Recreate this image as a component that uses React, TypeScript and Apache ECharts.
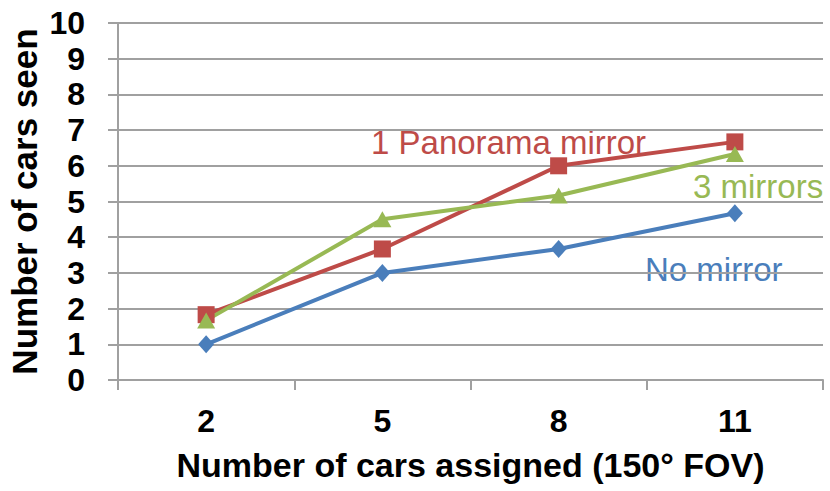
import React, { useEffect, useRef } from "react";
import * as echarts from "echarts";

const categories = ["2", "5", "8", "11"];
const noMirror = [1, 3, 3.67, 4.67];
const panorama = [1.83, 3.67, 6, 6.67];
const threeMirrors = [1.67, 4.5, 5.17, 6.33];

const BLUE = "#4A7EBB";
const RED = "#BE4B48";
const GREEN = "#98B954";
const FONT = "'Liberation Sans', Arial, sans-serif";

export default function App() {
  const ref = useRef<HTMLDivElement>(null);
  useEffect(() => {
    if (!ref.current) return;
    const chart = echarts.init(ref.current, null, { renderer: "svg" });
    chart.setOption({
      animation: false,
      backgroundColor: "#ffffff",
      grid: { left: 118, right: 7, top: 23, bottom: 111, containLabel: false, outerBoundsMode: "none" },
      xAxis: {
        type: "category",
        data: categories,
        boundaryGap: true,
        name: "Number of cars assigned (150° FOV)",
        nameLocation: "middle",
        nameGap: 68,
        nameTextStyle: { fontFamily: FONT, fontSize: 34, fontWeight: "bold", color: "#000" },
        axisLine: { show: true, lineStyle: { color: "#A0A0A0", width: 2 } },
        axisTick: { show: true, length: 10, interval: 0, alignWithLabel: false, lineStyle: { color: "#A0A0A0", width: 2 } },
        axisLabel: { fontFamily: FONT, fontSize: 32, fontWeight: "bold", color: "#000", margin: 25 },
        splitLine: { show: false },
      },
      yAxis: {
        type: "value",
        min: 0,
        max: 10,
        interval: 1,
        name: "Number of cars seen",
        nameLocation: "middle",
        nameGap: 76,
        nameMoveOverlap: false,
        nameRotate: 90,
        nameTextStyle: { fontFamily: FONT, fontSize: 35, fontWeight: "bold", color: "#000" },
        axisLine: { show: true, lineStyle: { color: "#A0A0A0", width: 2 } },
        axisTick: { show: true, length: 10, lineStyle: { color: "#A0A0A0", width: 2 } },
        axisLabel: { fontFamily: FONT, fontSize: 32, fontWeight: "bold", color: "#000", margin: 33 },
        splitLine: { show: true, lineStyle: { color: "#A0A0A0", width: 2 } },
      },
      series: [
        {
          name: "No mirror",
          type: "line",
          data: noMirror,
          symbol: "diamond",
          symbolSize: [16, 18],
          lineStyle: { color: BLUE, width: 4 },
          itemStyle: { color: BLUE },
        },
        {
          name: "1 Panorama mirror",
          type: "line",
          data: panorama,
          symbol: "rect",
          symbolSize: 17,
          lineStyle: { color: RED, width: 4 },
          itemStyle: { color: RED },
        },
        {
          name: "3 mirrors",
          type: "line",
          data: threeMirrors,
          symbol: "triangle",
          symbolSize: [18, 16],
          lineStyle: { color: GREEN, width: 4 },
          itemStyle: { color: GREEN },
        },
      ],
      graphic: [
        {
          type: "text",
          left: 371,
          top: 126,
          style: { text: "1 Panorama mirror", fontFamily: FONT, fontSize: 33, fill: RED },
        },
        {
          type: "text",
          left: 693,
          top: 170,
          style: { text: "3 mirrors", fontFamily: FONT, fontSize: 33, fill: GREEN },
        },
        {
          type: "text",
          left: 645,
          top: 253,
          style: { text: "No mirror", fontFamily: FONT, fontSize: 33, fill: BLUE },
        },
      ],
    });
    return () => chart.dispose();
  }, []);
  return <div ref={ref} style={{ width: 830, height: 491, position: "absolute", left: 0, top: 0 }} />;
}
